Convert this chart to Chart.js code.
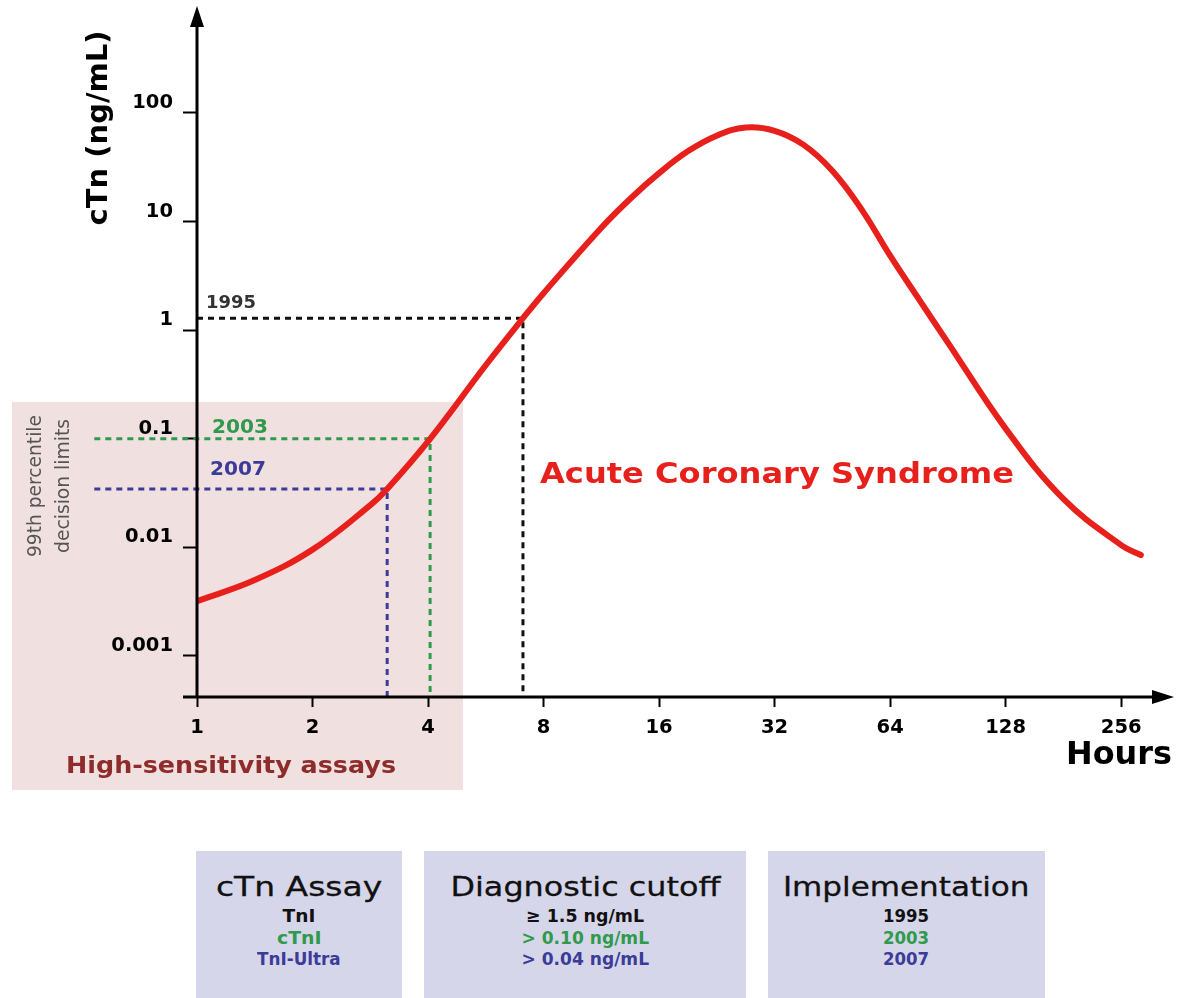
<!DOCTYPE html>
<html>
<head>
<meta charset="utf-8">
<script src="https://cdn.jsdelivr.net/npm/chart.js@4.4.1/dist/chart.umd.min.js"></script>
<style>
  html, body { margin: 0; padding: 0; background: #fff; }
  #wrap { position: relative; width: 1178px; height: 998px; overflow: hidden; background: #fff; }
  #c { position: absolute; left: 0; top: 0; }
  .box { position: absolute; top: 851px; height: 160px; background: #d6d6ea; text-align: center;
         font-family: "DejaVu Sans", sans-serif; }
  .hdr { font-size: 27px; color: #111; margin-top: 18px; line-height: 36px; white-space: nowrap; }
  .hdr span { display: inline-block; transform-origin: 50% 50%; -webkit-text-stroke: 0.3px #111; }
  .row { font-size: 18px; font-weight: bold; line-height: 21.5px; white-space: nowrap; }
  .row span { display: inline-block; transform-origin: 50% 50%; }
  .k { color: #111; } .g { color: #2f9a4c; } .b { color: #3b3b98; }
</style>
</head>
<body>
<div id="wrap">
  <canvas id="c" width="1178" height="840"></canvas>
  <div class="box" style="left:196px;width:206px;">
    <div class="hdr"><span data-w="166">cTn Assay</span></div>
    <div class="row k"><span data-w="33">TnI</span></div><div class="row g"><span data-w="44">cTnI</span></div><div class="row b"><span data-w="84">TnI-Ultra</span></div>
  </div>
  <div class="box" style="left:424px;width:322px;">
    <div class="hdr"><span data-w="270">Diagnostic cutoff</span></div>
    <div class="row k"><span data-w="118">≥ 1.5 ng/mL</span></div><div class="row g"><span data-w="128">&gt; 0.10 ng/mL</span></div><div class="row b"><span data-w="128">&gt; 0.04 ng/mL</span></div>
  </div>
  <div class="box" style="left:768px;width:277px;">
    <div class="hdr"><span data-w="246">Implementation</span></div>
    <div class="row k"><span data-w="46">1995</span></div><div class="row g"><span data-w="46">2003</span></div><div class="row b"><span data-w="46">2007</span></div>
  </div>
</div>
<script>
// ---- data ----
const hours = [1, 1.414, 2, 2.83, 3.13, 4.05, 5.66, 7.07, 8, 11.3, 13.5, 16, 19, 22.6, 26.9, 32, 38.1, 45.3, 53.8, 64, 76.1, 90.5, 128, 181, 256, 288];
const ctn   = [0.00319, 0.0050, 0.00953, 0.0245, 0.0345, 0.1, 0.478, 1.29, 2.19, 8.73, 16.4, 27.9, 44.3, 61.8, 73.5, 68.5, 50.8, 29.2, 13.1, 4.85, 1.92, 0.769, 0.124, 0.0279, 0.0105, 0.0085];
const xTicks = [1, 2, 4, 8, 16, 32, 64, 128, 256];
const yTicks = [0.001, 0.01, 0.1, 1, 10, 100];
const cutYears = ['1995', '2003', '2007'];
const cutValues = [1.29, 0.1, 0.0345];    // ng/mL where the dashed line meets the curve
const cutHours = [7.07, 4.05, 3.13];      // hours where the dashed line meets the curve
const cutStartHours = [1, 0.54, 0.54];    // left end of horizontal dashes
const cutColors = ['#111111', '#2f9a4c', '#3b3b98'];
const X_MIN = 1, X_MAX = 331, Y_MIN = 0.000419, Y_MAX = 798;

// fit table texts to widths
document.querySelectorAll('[data-w]').forEach(el => {
  const k = (+el.dataset.w) / el.offsetWidth;
  el.style.transform = 'scaleX(' + k.toFixed(3) + ')';
});

const datasets = [{
  data: hours.map((h, i) => ({ x: h, y: ctn[i] })),
  borderColor: '#e8201c', borderWidth: 6, pointRadius: 0, showLine: true,
  tension: 0.4, fill: false, order: 0, borderCapStyle: 'round', borderJoinStyle: 'round'
}];
cutYears.forEach((yr, i) => {
  datasets.push({
    data: [{ x: cutStartHours[i], y: cutValues[i] }, { x: cutHours[i], y: cutValues[i] }, { x: cutHours[i], y: Y_MIN }],
    borderColor: cutColors[i], borderWidth: 3, borderDash: [6, 5], pointRadius: 0, showLine: true,
    tension: 0, clip: false, order: 1
  });
});

const TICKFONT = { family: '"DejaVu Sans", sans-serif', size: 19.5, weight: 'bold' };

function txt(c, s, x, y, font, color, align, width) {
  c.save();
  c.font = font; c.fillStyle = color; c.textBaseline = 'middle'; c.textAlign = 'left';
  const w = c.measureText(s).width;
  const k = width ? width / w : 1;
  const x0 = align === 'center' ? x - w * k / 2 : align === 'right' ? x - w * k : x;
  c.translate(x0, y); c.scale(k, 1);
  c.fillText(s, 0, 0);
  c.restore();
}

const deco = {
  id: 'deco',
  beforeDraw(chart) {
    const c = chart.ctx;
    c.save();
    c.fillStyle = '#f1e0e0';
    c.fillRect(12, 402, 451, 388);
    c.translate(0, 486); c.rotate(-Math.PI / 2);
    txt(c, '99th percentile', 0, 36, '19px "DejaVu Sans"', '#555', 'center', 142);
    txt(c, 'decision limits', 0, 64, '19px "DejaVu Sans"', '#555', 'center', 134);
    c.restore();
  },
  afterDraw(chart) {
    const c = chart.ctx;
    const xs = chart.scales.x, ys = chart.scales.y;
    const ax = xs.getPixelForValue(1), ay = ys.bottom;
    c.save();
    c.strokeStyle = '#000'; c.fillStyle = '#000'; c.lineWidth = 3;
    c.beginPath(); c.moveTo(ax, ay + 1); c.lineTo(ax, 22); c.stroke();
    c.beginPath(); c.moveTo(ax, 6); c.lineTo(ax - 7, 27); c.lineTo(ax + 7, 27); c.closePath(); c.fill();
    c.beginPath(); c.moveTo(183, ay); c.lineTo(1158, ay); c.stroke();
    c.beginPath(); c.moveTo(1174, ay); c.lineTo(1152, ay - 7); c.lineTo(1152, ay + 7); c.closePath(); c.fill();

    c.save();
    c.translate(0, 128); c.rotate(-Math.PI / 2);
    txt(c, 'cTn (ng/mL)', 0, 99, 'bold 29px "DejaVu Sans"', '#000', 'center', 195);
    c.restore();

    txt(c, cutYears[0], 206, 303, 'bold 18px "DejaVu Sans"', '#333', 'left', 50);
    txt(c, cutYears[1], 212, 428, 'bold 20px "DejaVu Sans"', cutColors[1], 'left', 56);
    txt(c, cutYears[2], 210, 470, 'bold 20px "DejaVu Sans"', cutColors[2], 'left', 56);

    txt(c, 'Acute Coronary Syndrome', 540, 475, 'bold 29px "DejaVu Sans"', '#e8201c', 'left', 474);
    txt(c, 'High-sensitivity assays', 231, 767, 'bold 23px "DejaVu Sans"', '#8e2b2b', 'center', 330);
    txt(c, 'Hours', 1172, 756, 'bold 32px "DejaVu Sans"', '#000', 'right', 106);
    c.restore();
  }
};

new Chart(document.getElementById('c'), {
  type: 'scatter',
  data: { datasets },
  options: {
    responsive: false, animation: false,
    layout: { padding: { top: 15, right: 14, left: 0, bottom: 0 } },
    plugins: { legend: { display: false }, tooltip: { enabled: false } },
    scales: {
      x: {
        type: 'logarithmic', min: X_MIN, max: X_MAX,
        afterBuildTicks: s => { s.ticks = xTicks.map(v => ({ value: v })); },
        afterFit: s => { s.height = 143; s.paddingLeft = 0; s.paddingRight = 0; },
        border: { display: false },
        grid: { display: true, drawOnChartArea: false, drawTicks: true, tickLength: 10, tickWidth: 2, tickColor: '#000' },
        ticks: { callback: v => String(v), color: '#000', font: TICKFONT, padding: 9, maxRotation: 0, autoSkip: false }
      },
      y: {
        type: 'logarithmic', min: Y_MIN, max: Y_MAX,
        afterBuildTicks: s => { s.ticks = yTicks.map(v => ({ value: v })); },
        afterFit: s => { s.width = 197; s.paddingTop = 0; s.paddingBottom = 0; },
        border: { display: false },
        grid: { display: true, drawOnChartArea: false, drawTicks: true, tickLength: 14, tickWidth: 2, tickColor: '#000' },
        ticks: { callback: v => String(v), color: '#000', font: TICKFONT, padding: 10, labelOffset: -10, autoSkip: false }
      }
    }
  },
  plugins: [deco]
});
</script>
</body>
</html>
